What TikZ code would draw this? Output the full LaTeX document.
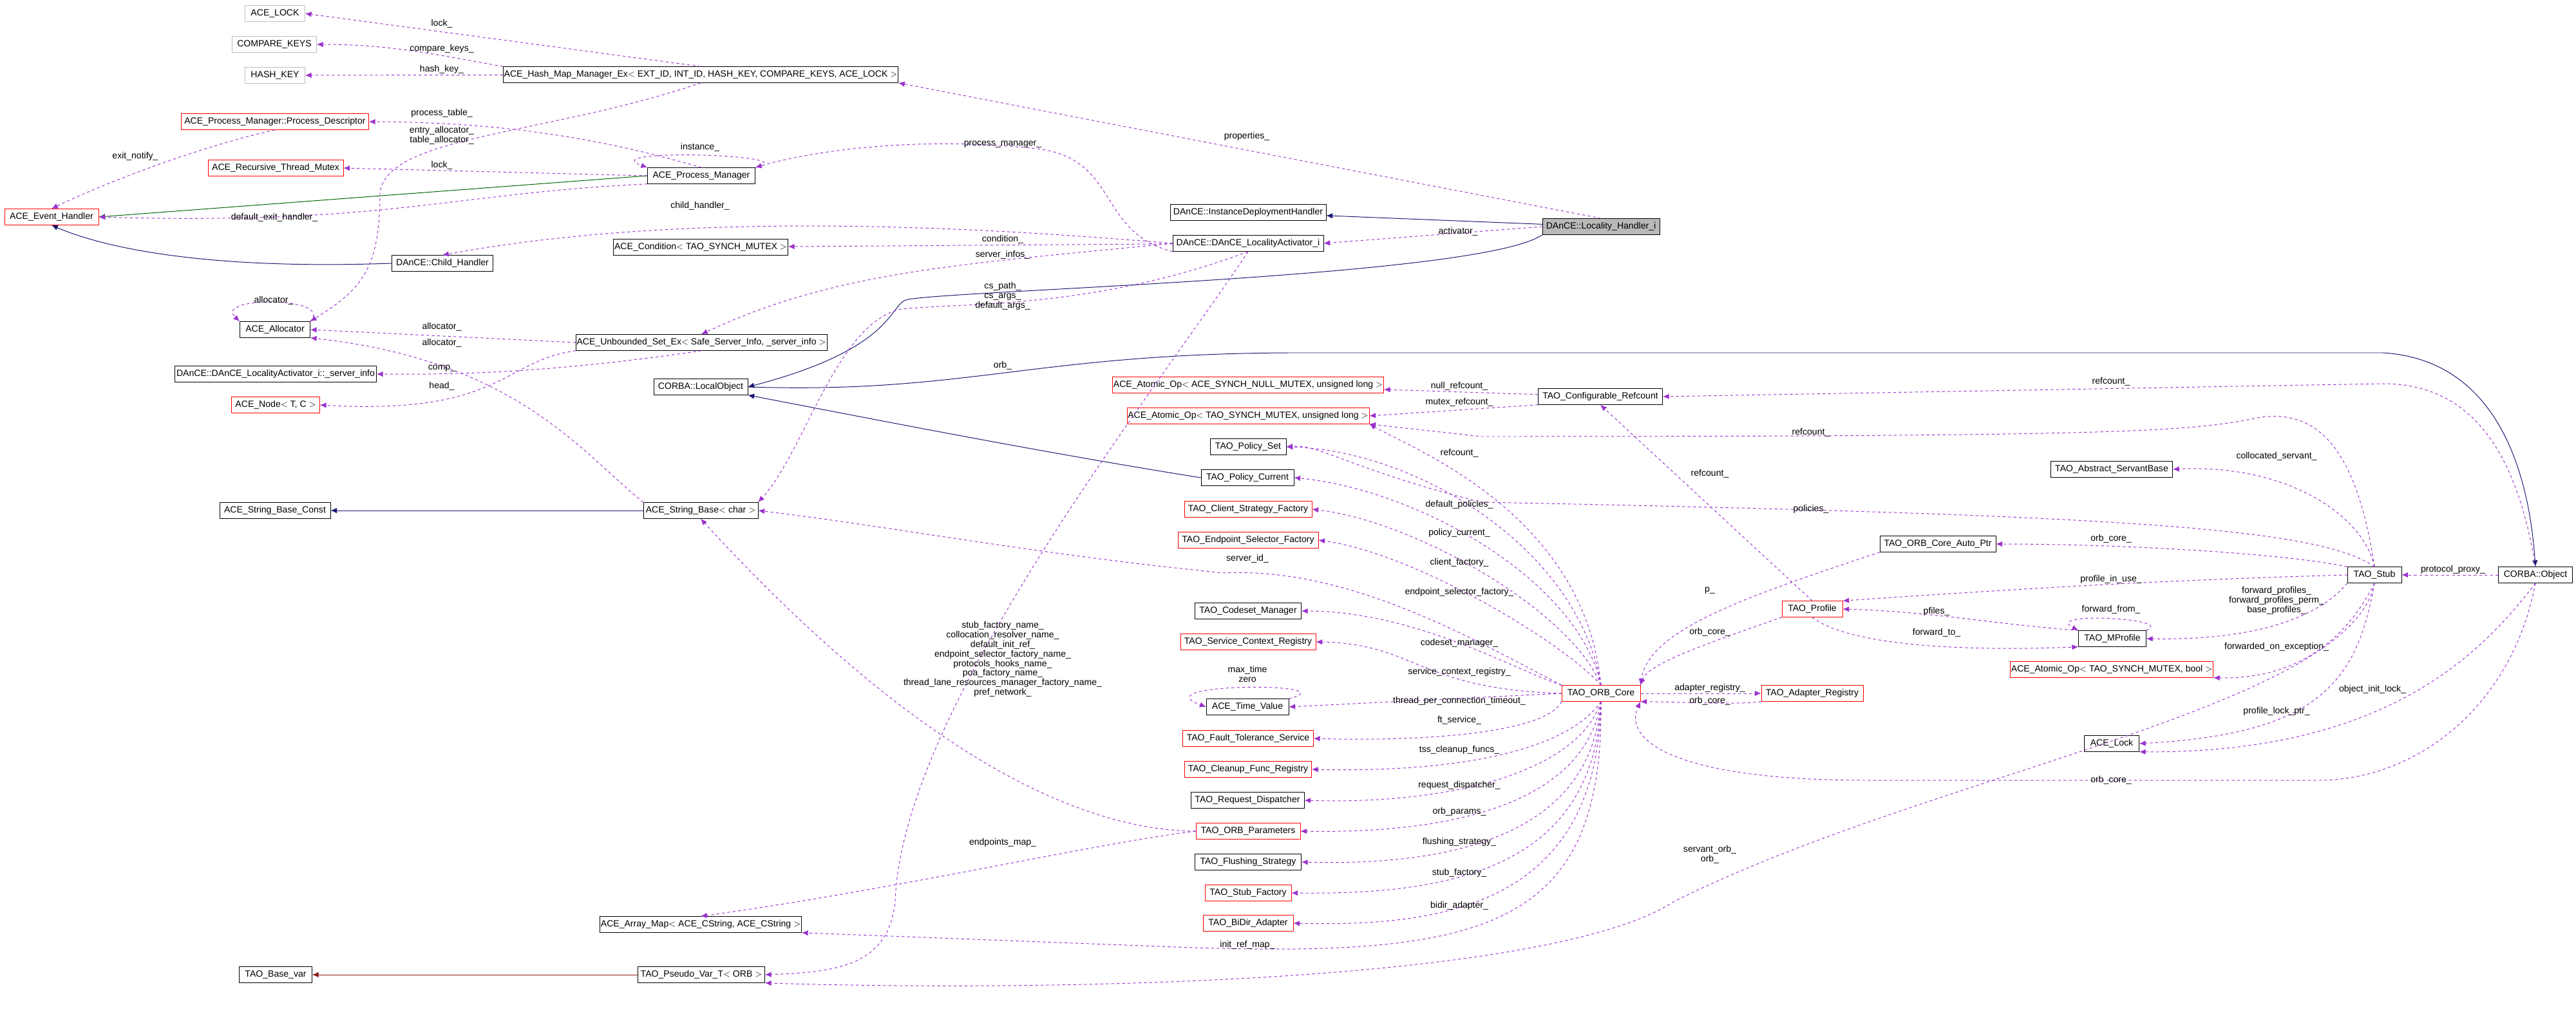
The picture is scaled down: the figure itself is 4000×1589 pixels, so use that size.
\documentclass[tikz,border=0pt]{standalone}
\usepackage{fontspec}
\setmainfont{Liberation Sans}
\usetikzlibrary{arrows.meta, calc, positioning}
\definecolor{usec}{HTML}{9a32cd}
\definecolor{inhc}{HTML}{191970}
\definecolor{grnc}{HTML}{006400}
\definecolor{tplc}{HTML}{8b1a1a}

\begin{document}
\begin{tikzpicture}[x=0.025cm, y=-0.025cm,
    cls/.style={draw=black, font=\fontsize{10}{11}\selectfont, minimum height=0.625cm, inner sep=1pt, minimum width=#1*0.025cm},
    cls/.default=100,
    redbox/.style={cls=#1, draw=red},
    grybox/.style={cls=#1, draw=gray!50},
    lbl/.style={font=\fontsize{10}{10.5}\selectfont, align=center, inner sep=1pt},
    use/.style={usec, dashed, line width=0.7pt, -{Latex[length=7pt,width=6pt]}},
    inh/.style={inhc, line width=0.7pt, -{Latex[length=7pt,width=6pt]}},
    inhg/.style={grnc, line width=0.7pt, -{Latex[length=7pt,width=6pt]}},
    inht/.style={tplc, line width=0.7pt, -{Latex[length=7pt,width=6pt]}}]
    \useasboundingbox (0,0) rectangle (4000,1589);
    % left column
    \node[grybox=93]  (acelock)     at (427,21)   {ACE\_LOCK};
    \node[grybox=131] (comparekeys) at (426,69)   {COMPARE\_KEYS};
    \node[grybox=93]  (hashkey)     at (427,117)  {HASH\_KEY};
    \node[redbox=291] (procdesc)    at (427,189)  {ACE\_Process\_Manager::Process\_Descriptor};
    \node[redbox=210] (rtmutex)     at (428,261)  {ACE\_Recursive\_Thread\_Mutex};
    \node[redbox=146] (evhandler)   at (80,337)   {ACE\_Event\_Handler};
    \node[cls=109]    (allocator)   at (427,512)  {ACE\_Allocator};
    \node[cls=313]    (srvinfo)     at (428,581)  {DAnCE::DAnCE\_LocalityActivator\_i::\_server\_info};
    \node[redbox=137] (acenode)     at (428,629)  {ACE\_Node$<$ T, C $>$};
    \node[cls=172]    (sbconst)     at (427,793)  {ACE\_String\_Base\_Const};
    \node[cls=113]    (basevar)     at (428,1514) {TAO\_Base\_var};
    % second column
    \node[cls=598]    (hashmap)     at (1088,116) {ACE\_Hash\_Map\_Manager\_Ex$<$ EXT\_ID, INT\_ID, HASH\_KEY, COMPARE\_KEYS, ACE\_LOCK $>$};
    \node[cls=167]    (procmgr)     at (1089,273) {ACE\_Process\_Manager};
    \node[cls=271]    (condition)   at (1088,384) {ACE\_Condition$<$ TAO\_SYNCH\_MUTEX $>$};
    \node[cls=157]    (childh)      at (687,409)  {DAnCE::Child\_Handler};
    \node[cls=385]    (uset)        at (1089,532) {ACE\_Unbounded\_Set\_Ex$<$ Safe\_Server\_Info, \_server\_info $>$};
    \node[cls=146]    (localobj)    at (1088,601) {CORBA::LocalObject};
    \node[cls=178]    (sbchar)      at (1088,793) {ACE\_String\_Base$<$ char $>$};
    \node[cls=311]    (arraymap)    at (1088,1436) {ACE\_Array\_Map$<$ ACE\_CString, ACE\_CString $>$};
    \node[cls=197]    (pseudovar)   at (1089,1514) {TAO\_Pseudo\_Var\_T$<$ ORB $>$};
    % third column
    \node[cls=242]    (idh)         at (1938,330) {DAnCE::InstanceDeploymentHandler};
    \node[cls=234]    (activator)   at (1938,378) {DAnCE::DAnCE\_LocalityActivator\_i};
    \node[redbox=413] (atomnull)    at (1938,598) {ACE\_Atomic\_Op$<$ ACE\_SYNCH\_NULL\_MUTEX, unsigned long $>$};
    \node[redbox=371] (atomul)      at (1938,646) {ACE\_Atomic\_Op$<$ TAO\_SYNCH\_MUTEX, unsigned long $>$};
    \node[cls=118]    (policyset)   at (1938,694) {TAO\_Policy\_Set};
    \node[cls=144]    (policycur)   at (1937,742) {TAO\_Policy\_Current};
    \node[redbox=198] (csfactory)   at (1938,791) {TAO\_Client\_Strategy\_Factory};
    \node[redbox=218] (esfactory)   at (1938,839) {TAO\_Endpoint\_Selector\_Factory};
    \node[cls=165]    (codeset)     at (1938,949) {TAO\_Codeset\_Manager};
    \node[redbox=210] (scregistry)  at (1938,997) {TAO\_Service\_Context\_Registry};
    \node[cls=128]    (timevalue)   at (1937,1098) {ACE\_Time\_Value};
    \node[redbox=203] (ftservice)   at (1938,1147) {TAO\_Fault\_Tolerance\_Service};
    \node[redbox=197] (cleanup)     at (1938,1195) {TAO\_Cleanup\_Func\_Registry};
    \node[cls=176]    (reqdisp)     at (1937,1243) {TAO\_Request\_Dispatcher};
    \node[redbox=162] (orbparams)   at (1938,1291) {TAO\_ORB\_Parameters};
    \node[cls=165]    (flushing)    at (1938,1339) {TAO\_Flushing\_Strategy};
    \node[redbox=134] (stubfactory) at (1938,1387) {TAO\_Stub\_Factory};
    \node[redbox=140] (bidir)       at (1938,1434) {TAO\_BiDir\_Adapter};
    % fourth column
    \node[cls=182, fill=gray!55] (lhandler) at (2486,352) {DAnCE::Locality\_Handler\_i};
    \node[cls=193]    (cfgrefcount) at (2485,616) {TAO\_Configurable\_Refcount};
    \node[redbox=122] (orbcore)     at (2486,1077) {TAO\_ORB\_Core};
    \node[redbox=94]  (profile)     at (2814,946) {TAO\_Profile};
    \node[redbox=158] (adapterreg)  at (2814,1077) {TAO\_Adapter\_Registry};
    % right side
    \node[cls=180]    (autoptr)     at (3009,845) {TAO\_ORB\_Core\_Auto\_Ptr};
    \node[cls=189]    (servantbase) at (3279,729) {TAO\_Abstract\_ServantBase};
    \node[cls=105]    (mprofile)    at (3280,992) {TAO\_MProfile};
    \node[redbox=312] (atombool)    at (3279,1040) {ACE\_Atomic\_Op$<$ TAO\_SYNCH\_MUTEX, bool $>$};
    \node[cls=85]     (acelockobj)  at (3279,1155) {ACE\_Lock};
    \node[cls=84]     (stub)        at (3687,893) {TAO\_Stub};
    \node[cls=115]    (corbaobj)    at (3937,893) {CORBA::Object};

    % inheritance
    \draw[inh] (lhandler) -- (idh);
    \draw[inh] (lhandler.south west) .. controls (2300,430) and (1500,450) .. (1410,465) .. controls (1380,470) and (1395,540) .. (localobj.east);
    \draw[inh] (policycur.west) .. controls (1600,700) and (1300,640) .. (localobj.south east);
    \draw[inh] (localobj.east) .. controls (1500,612) and (1600,550) .. (2000,548) -- (3700,548) .. controls (3900,560) and (3930,780) .. (corbaobj.north);
    \draw[inhg] (procmgr.west) -- (evhandler.east);
    \draw[inh] (childh.west) .. controls (300,420) and (150,380) .. (evhandler.south);
    \draw[inh] (sbchar) -- (sbconst);
    \draw[inht] (pseudovar) -- (basevar);

    % hash map
    \draw[use] (hashmap.north) -- (acelock.east);
    \draw[use] (hashmap.north west) to[out=170,in=0] (comparekeys.east);
    \draw[use] (hashmap) -- (hashkey);
    \draw[use] (lhandler.north) -- (hashmap.south east);
    \draw[use] (hashmap.south) .. controls (850,210) and (600,210) .. (590,300) .. controls (590,420) and (560,450) .. (allocator.north east);
    % process manager
    \draw[use] (procmgr.north) .. controls (950,220) and (800,190) .. (procdesc.east);
    \draw[use] (procdesc.south) .. controls (300,230) and (150,290) .. (evhandler.north);
    \draw[use] (procmgr.west) -- (rtmutex.east);
    \draw[use] (procmgr.north east) .. controls (1260,240) and (920,230) .. (procmgr.north west);
    \draw[use] (procmgr.south west) .. controls (700,300) and (600,350) .. (evhandler.east);
    % activator
    \draw[use] (lhandler.west) -- (activator.east);
    \draw[use] (activator.west) .. controls (1600,360) and (1100,320) .. (childh.north);
    \draw[use] (activator.south west) .. controls (1700,360) and (1740,240) .. (1600,230) .. controls (1400,210) and (1240,240) .. (procmgr.north east);
    \draw[use] (activator) -- (condition);
    \draw[use] (activator.west) .. controls (1500,410) and (1300,420) .. (uset.north);
    \draw[use] (activator.south) .. controls (1700,480) and (1500,470) .. (1400,480) .. controls (1300,500) and (1250,700) .. (sbchar.north east);
    \draw[use] (activator.south) .. controls (1800,600) and (1400,1100) .. (1390,1400) .. controls (1380,1500) and (1300,1510) .. (pseudovar.east);
    % unbounded set / allocator
    \draw[use] (uset.west) -- (allocator.east);
    \draw[use] (allocator.north east) .. controls (520,460) and (330,460) .. (allocator.north west);
    \draw[use] (sbchar.north west) .. controls (900,700) and (800,560) .. (allocator.south east);
    \draw[use] (uset.south) .. controls (850,580) and (700,582) .. (srvinfo.east);
    \draw[use] (uset.south west) .. controls (780,560) and (780,645) .. (acenode.east);
    % refcounts
    \draw[use] (cfgrefcount) -- (atomnull);
    \draw[use] (cfgrefcount.south west) -- (atomul.east);
    \draw[use] (corbaobj.north) .. controls (3900,650) and (3800,596) .. (3700,596) -- (cfgrefcount.east);
    \draw[use] (stub.north) .. controls (3660,700) and (3600,630) .. (3500,650) .. controls (3400,670) and (3300,678) .. (2300,678) -- (atomul.south east);
    \draw[use] (orbcore.north) .. controls (2460,800) and (2200,700) .. (atomul.south east);
    \draw[use] (profile.north) -- (cfgrefcount.south);
    % orb core fan-out
    \draw[use] (orbcore.north) .. controls (2450,850) and (2200,700) .. (policyset.east);
    \draw[use] (stub.north) .. controls (3600,820) and (3300,800) .. (2300,780) .. controls (2100,730) and (2050,690) .. (policyset.east);
    \draw[use] (orbcore.north) .. controls (2450,900) and (2200,760) .. (policycur.east);
    \draw[use] (orbcore.north) .. controls (2440,950) and (2200,810) .. (csfactory.east);
    \draw[use] (orbcore.north) .. controls (2430,1000) and (2200,860) .. (esfactory.east);
    \draw[use] (orbcore.north west) .. controls (2300,1000) and (2100,880) .. (1900,890) .. controls (1600,860) and (1400,820) .. (sbchar.east);
    \draw[use] (orbcore.north west) .. controls (2350,1040) and (2200,950) .. (codeset.east);
    \draw[use] (orbcore.west) .. controls (2200,1070) and (2200,1000) .. (scregistry.east);
    \draw[use] (orbcore.west) -- (timevalue.east);
    \draw[use] (timevalue.north east) .. controls (2100,1060) and (1770,1060) .. (timevalue.west);
    \draw[use] (orbcore.south west) .. controls (2400,1140) and (2200,1152) .. (ftservice.east);
    \draw[use] (orbcore.south) .. controls (2430,1170) and (2250,1200) .. (cleanup.east);
    \draw[use] (orbcore.south) .. controls (2450,1200) and (2250,1250) .. (reqdisp.east);
    \draw[use] (orbcore.south) .. controls (2460,1250) and (2250,1295) .. (orbparams.east);
    \draw[use] (orbcore.south) .. controls (2470,1300) and (2250,1345) .. (flushing.east);
    \draw[use] (orbcore.south) .. controls (2475,1350) and (2250,1390) .. (stubfactory.east);
    \draw[use] (orbcore.south) .. controls (2480,1400) and (2250,1440) .. (bidir.east);
    \draw[use] (orbcore.south) .. controls (2490,1450) and (2300,1490) .. (1800,1470) -- (arraymap.south east);
    \draw[use] (orbparams.west) .. controls (1700,1290) and (1450,1200) .. (sbchar.south);
    \draw[use] (orbparams.west) .. controls (1700,1310) and (1400,1380) .. (arraymap.north);
    \draw[use] (stub.south) .. controls (3650,1100) and (3000,1200) .. (2600,1400) .. controls (2400,1530) and (1600,1540) .. (pseudovar.south east);
    % orb core neighbours
    \draw[use] (orbcore.east) -- (adapterreg.west);
    \draw[use] (adapterreg.south west) .. controls (2700,1095) and (2600,1090) .. (orbcore.south east);
    \draw[use] (autoptr.south west) .. controls (2700,930) and (2560,980) .. (orbcore.north east);
    \draw[use] (profile.south west) .. controls (2650,1000) and (2560,1030) .. (orbcore.north east);
    \draw[use] (corbaobj.south) .. controls (3900,1100) and (3750,1212) .. (3600,1212) -- (2900,1212) .. controls (2600,1212) and (2520,1150) .. (orbcore.south east);
    % stub
    \draw[use] (corbaobj) -- (stub);
    \draw[use] (stub.north) .. controls (3670,800) and (3550,720) .. (servantbase.east);
    \draw[use] (stub.north west) .. controls (3550,860) and (3300,845) .. (autoptr.east);
    \draw[use] (stub.west) .. controls (3400,900) and (3200,910) .. (profile.north east);
    \draw[use] (mprofile.north west) .. controls (3100,970) and (3000,950) .. (profile.east);
    \draw[use] (profile.south) .. controls (2880,1010) and (3100,1010) .. (mprofile.south west);
    \draw[use] (mprofile.north east) .. controls (3380,960) and (3170,950) .. (mprofile.north west);
    \draw[use] (stub.south west) .. controls (3600,960) and (3500,995) .. (mprofile.east);
    \draw[use] (stub.south) .. controls (3640,1000) and (3560,1055) .. (atombool.south east);
    \draw[use] (stub.south) .. controls (3660,1060) and (3600,1140) .. (acelockobj.east);
    \draw[use] (corbaobj.south) .. controls (3850,1020) and (3700,1170) .. (acelockobj.south east);

    % labels
    \node[lbl] (l1)  at (686,37)   {lock\_};
    \node[lbl] (l2)  at (686,76)   {compare\_keys\_};
    \node[lbl] (l3)  at (686,108)  {hash\_key\_};
    \node[lbl] (l4)  at (686,176)  {process\_table\_};
    \node[lbl] (l5)  at (686,210)  {entry\_allocator\_\\table\_allocator\_};
    \node[lbl] (l6)  at (210,243)  {exit\_notify\_};
    \node[lbl] (l7)  at (686,257)  {lock\_};
    \node[lbl] (l8)  at (1087,229) {instance\_};
    \node[lbl] (l9)  at (426,338)  {default\_exit\_handler\_};
    \node[lbl] (l10) at (1087,320) {child\_handler\_};
    \node[lbl] (l11) at (425,467)  {allocator\_};
    \node[lbl] (l12) at (686,508)  {allocator\_};
    \node[lbl] (l13) at (686,533)  {allocator\_};
    \node[lbl] (l14) at (686,572)  {comp\_};
    \node[lbl] (l15) at (686,600)  {head\_};
    \node[lbl] (l16) at (1936,212) {properties\_};
    \node[lbl] (l17) at (1557,224) {process\_manager\_};
    \node[lbl] (l18) at (1557,372) {condition\_};
    \node[lbl] (l19) at (1557,396) {server\_infos\_};
    \node[lbl] (l20) at (1557,460) {cs\_path\_\\cs\_args\_\\default\_args\_};
    \node[lbl] (l21) at (1557,568) {orb\_};
    \node[lbl] (l22) at (2264,360) {activator\_};
    \node[lbl] (l23) at (2266,600) {null\_refcount\_};
    \node[lbl] (l24) at (2266,625) {mutex\_refcount\_};
    \node[lbl] (l25) at (3278,593) {refcount\_};
    \node[lbl] (l26) at (2812,672) {refcount\_};
    \node[lbl] (l27) at (2266,704) {refcount\_};
    \node[lbl] (l28) at (2655,736) {refcount\_};
    \node[lbl] (l29) at (3535,709) {collocated\_servant\_};
    \node[lbl] (l30) at (2266,784) {default\_policies\_};
    \node[lbl] (l31) at (2812,791) {policies\_};
    \node[lbl] (l32) at (2266,828) {policy\_current\_};
    \node[lbl] (l33) at (3278,837) {orb\_core\_};
    \node[lbl] (l34) at (1937,868) {server\_id\_};
    \node[lbl] (l35) at (2266,874) {client\_factory\_};
    \node[lbl] (l36) at (3809,885) {protocol\_proxy\_};
    \node[lbl] (l37) at (3278,900) {profile\_in\_use\_};
    \node[lbl] (l38) at (2655,917) {p\_};
    \node[lbl] (l39) at (2266,920) {endpoint\_selector\_factory\_};
    \node[lbl] (l40) at (3535,933) {forward\_profiles\_\\forward\_profiles\_perm\_\\base\_profiles\_};
    \node[lbl] (l41) at (3007,950) {pfiles\_};
    \node[lbl] (l42) at (3278,947) {forward\_from\_};
    \node[lbl] (l43) at (3007,983) {forward\_to\_};
    \node[lbl] (l44) at (2655,982) {orb\_core\_};
    \node[lbl] (l45) at (2266,999) {codeset\_manager\_};
    \node[lbl] (l46) at (1557,1024) {stub\_factory\_name\_\\collocation\_resolver\_name\_\\default\_init\_ref\_\\endpoint\_selector\_factory\_name\_\\protocols\_hooks\_name\_\\poa\_factory\_name\_\\thread\_lane\_resources\_manager\_factory\_name\_\\pref\_network\_};
    \node[lbl] (l47) at (3535,1005) {forwarded\_on\_exception\_};
    \node[lbl] (l48) at (1937,1047) {max\_time\\zero};
    \node[lbl] (l49) at (2266,1044) {service\_context\_registry\_};
    \node[lbl] (l50) at (2655,1069) {adapter\_registry\_};
    \node[lbl] (l51) at (3684,1071) {object\_init\_lock\_};
    \node[lbl] (l52) at (2266,1089) {thread\_per\_connection\_timeout\_};
    \node[lbl] (l53) at (2655,1089) {orb\_core\_};
    \node[lbl] (l54) at (3535,1105) {profile\_lock\_ptr\_};
    \node[lbl] (l55) at (2266,1119) {ft\_service\_};
    \node[lbl] (l56) at (2266,1165) {tss\_cleanup\_funcs\_};
    \node[lbl] (l57) at (3278,1212) {orb\_core\_};
    \node[lbl] (l58) at (2266,1220) {request\_dispatcher\_};
    \node[lbl] (l59) at (2266,1261) {orb\_params\_};
    \node[lbl] (l60) at (2266,1308) {flushing\_strategy\_};
    \node[lbl] (l61) at (1557,1309) {endpoints\_map\_};
    \node[lbl] (l62) at (2655,1327) {servant\_orb\_\\orb\_};
    \node[lbl] (l63) at (2266,1356) {stub\_factory\_};
    \node[lbl] (l64) at (2266,1407) {bidir\_adapter\_};
    \node[lbl] (l65) at (1937,1468) {init\_ref\_map\_};
\end{tikzpicture}
\end{document}
